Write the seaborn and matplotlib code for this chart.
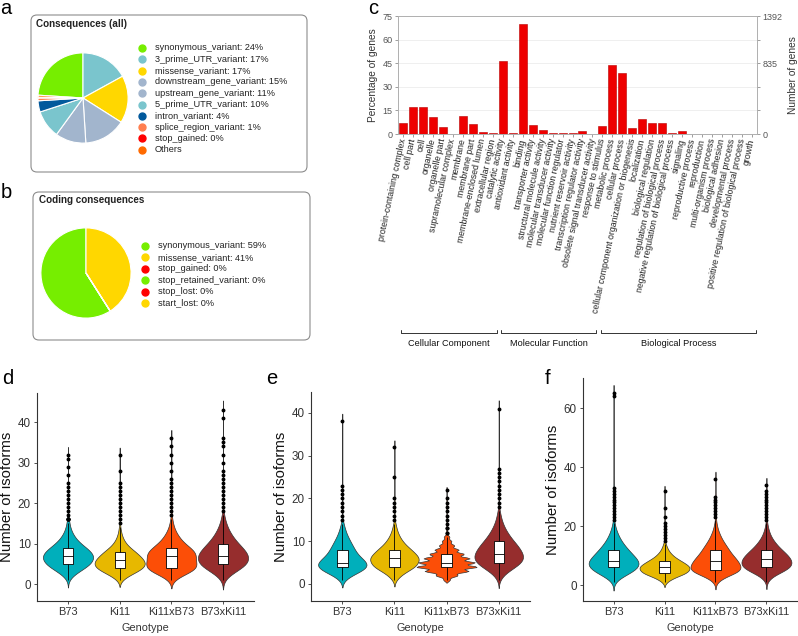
import numpy as np
import pandas as pd
import matplotlib
matplotlib.use('Agg')
import matplotlib.pyplot as plt
from matplotlib.patches import FancyBboxPatch
from matplotlib.lines import Line2D
import matplotlib.transforms as mtransforms
import seaborn as sns

W, H = 798, 636

# ---- panel a: consequences (all), listed in legend order
all_labels = ['synonymous_variant', '3_prime_UTR_variant', 'missense_variant',
              'downstream_gene_variant', 'upstream_gene_variant', '5_prime_UTR_variant',
              'intron_variant', 'splice_region_variant', 'stop_gained', 'Others']
all_pct_text = ['24%', '17%', '17%', '15%', '11%', '10%', '4%', '1%', '0%', None]
all_share = [24, 17, 17, 15, 11, 10, 4, 1, 0.3, 0.7]
all_colors = ['#76ee00', '#7ac5cd', '#ffd700', '#a2b5cd', '#a2b5cd', '#7ac5cd',
              '#02599c', '#ff7f50', '#ff0000', '#ff6a00']

# ---- panel b: coding consequences
coding_labels = ['synonymous_variant', 'missense_variant', 'stop_gained',
                 'stop_retained_variant', 'stop_lost', 'start_lost']
coding_share = [59, 41, 0, 0, 0, 0]
coding_colors = ['#76ee00', '#ffd700', '#ff0000', '#76ee00', '#ff0000', '#ffd700']

# ---- panel c: GO categories
go_terms = ['protein-containing complex', 'cell part', 'cell', 'organelle', 'organelle part',
            'supramolecular complex', 'membrane', 'membrane part', 'membrane-enclosed lumen',
            'extracellular region',
            'catalytic activity', 'antioxidant activity', 'binding', 'transporter activity',
            'structural molecule activity', 'molecular transducer activity',
            'molecular function regulator', 'nutrient reservoir activity',
            'transcription regulator activity', 'obsolete signal transducer activity',
            'response to stimulus', 'metabolic process', 'cellular process',
            'cellular component organization or biogenesis', 'localization',
            'biological regulation', 'regulation of biological process',
            'negative regulation of biological process', 'signaling', 'reproductive process',
            'reproduction', 'multi-organism process', 'biological adhesion',
            'developmental process', 'positive regulation of biological process', 'growth']
go_pct = [7.0, 16.9, 16.9, 10.8, 4.4, 0.3, 11.3, 6.1, 1.0, 0.7,
          46.5, 0.8, 70.0, 5.8, 2.8, 0.5, 0.8, 0.4, 1.7, 0.1,
          5.3, 44.0, 39.0, 3.7, 9.7, 7.2, 6.7, 0.6, 1.8, 0.1,
          0.1, 0.1, 0.1, 0.1, 0.1, 0.1]
go_groups = ['Cellular Component', 'Molecular Function', 'Biological Process']
go_group_sizes = [10, 10, 16]
genes_total = 1392

# ---- panels d-f: number of genes per isoform count (1, 2, 3, ...) plus outlying values
genotypes = ['B73', 'Ki11', 'Ki11xB73', 'B73xKi11']
geno_colors = {'B73': '#00afbb', 'Ki11': '#e7b800', 'Ki11xB73': '#fc4e07', 'B73xKi11': '#962d2d'}

d_counts = {
    'B73': [5, 20, 45, 75, 100, 110, 115, 100, 80, 55, 38, 25, 16, 10, 6, 4],
    'Ki11': [12, 40, 80, 115, 125, 115, 95, 75, 48, 30, 18, 11, 6, 4],
    'Ki11xB73': [10, 35, 75, 100, 95, 85, 95, 90, 70, 50, 35, 25, 16, 10, 6, 4],
    'B73xKi11': [6, 20, 45, 75, 95, 100, 100, 90, 75, 60, 45, 35, 25, 18, 12, 8, 5],
}
d_high = {
    'B73': [16, 17, 18, 19, 20, 21, 22, 23, 24, 25, 27, 29, 31, 32],
    'Ki11': [15, 16, 17, 18, 19, 20, 21, 22, 23, 24, 25, 28, 32],
    'Ki11xB73': [17, 18, 19, 20, 21, 22, 23, 24, 25, 26, 28, 30, 32, 34, 36],
    'B73xKi11': [18, 19, 20, 21, 22, 23, 24, 25, 26, 27, 28, 30, 32, 34, 35, 36, 41, 43],
}
e_counts = {
    'B73': [12, 40, 85, 115, 110, 85, 65, 55, 45, 35, 25, 17, 11, 7],
    'Ki11': [10, 30, 60, 100, 110, 120, 100, 80, 55, 38, 25, 16, 10, 6],
    'Ki11xB73': [15, 50, 100, 140, 130, 105, 80, 55, 35, 22, 13],
    'B73xKi11': [6, 18, 40, 70, 95, 105, 100, 90, 78, 62, 48, 36, 26, 18, 12, 8, 5],
}
e_high = {
    'B73': [15, 16, 17, 18, 19, 20, 21, 22, 23, 38],
    'Ki11': [15, 16, 17, 18, 19, 20, 25, 32],
    'Ki11xB73': [12, 12, 13, 13, 14, 15, 16, 17, 18, 19, 20, 22],
    'B73xKi11': [18, 19, 20, 21, 22, 23, 24, 25, 26, 27, 41],
}
f_counts = {
    'B73': [4, 12, 28, 48, 65, 75, 78, 80, 68, 60, 52, 44, 36, 29, 23, 18, 14, 10, 7, 5, 3],
    'Ki11': [10, 30, 60, 100, 110, 120, 100, 80, 55, 38, 25, 16, 10, 6],
    'Ki11xB73': [5, 15, 35, 60, 85, 78, 75, 70, 62, 55, 45, 42, 35, 29, 23, 18, 14, 10, 7, 5, 3, 2],
    'B73xKi11': [3, 8, 20, 38, 60, 75, 80, 80, 75, 68, 58, 48, 38, 30, 23, 17, 12, 9, 6, 4, 3],
}
f_high = {
    'B73': [22, 23, 24, 25, 26, 27, 28, 29, 30, 31, 32, 33, 64, 65],
    'Ki11': [15, 16, 17, 18, 19, 20, 21, 23, 26, 32],
    'Ki11xB73': [23, 24, 25, 26, 27, 28, 29, 30, 36],
    'B73xKi11': [22, 23, 24, 25, 26, 27, 28, 29, 30, 31, 32, 34],
}

sns.set_theme(style='ticks')
plt.rcParams['font.family'] = ['Liberation Sans', 'DejaVu Sans']

fig = plt.figure(figsize=(W / 100, H / 100), dpi=100)


def px_axes(left, top, width, height):
    return fig.add_axes([left / W, 1 - (top + height) / H, width / W, height / H])


def fig_text(x, y, s, **kw):
    fig.text(x / W, 1 - y / H, s, **kw)


def rounded_box(x0, y0, x1, y1):
    box = FancyBboxPatch((x0 / 100, (H - y1) / 100), (x1 - x0) / 100, (y1 - y0) / 100,
                         boxstyle='round,pad=0,rounding_size=0.06',
                         transform=fig.dpi_scale_trans, facecolor='none',
                         edgecolor='#8c8c8c', linewidth=0.8)
    fig.add_artist(box)


def legend_rows(x_dot, x_txt, y0, step, labels, colors):
    for i, (lab, col) in enumerate(zip(labels, colors)):
        y = y0 + step * i
        fig.add_artist(Line2D([x_dot / W], [1 - y / H], marker='o', markersize=5,
                              color=col, transform=fig.transFigure))
        fig_text(x_txt, y, lab, fontsize=6.6, va='center', ha='left', color='#222')


# ---------- a
rounded_box(31, 15, 307, 172)
fig_text(36, 24, 'Consequences (all)', fontsize=7.1, fontweight='bold', va='center', color='#222')
ax_a = px_axes(37, 52, 92, 92)
ax_a.pie(all_share, colors=all_colors, startangle=90 + 3.6 * all_share[0], counterclock=False,
         wedgeprops=dict(edgecolor='white', linewidth=0.8))
ax_a.set_xlim(-1.02, 1.02)
ax_a.set_ylim(-1.02, 1.02)
a_text = [f'{l}: {p}' if p else l for l, p in zip(all_labels, all_pct_text)]
legend_rows(142, 155, 48, 11.3, a_text, all_colors)

# ---------- b
rounded_box(33, 192, 310, 340)
fig_text(39, 200, 'Coding consequences', fontsize=7.1, fontweight='bold', va='center', color='#222')
ax_b = px_axes(40, 227, 92, 92)
ax_b.pie(coding_share, colors=coding_colors, startangle=90 + 3.6 * coding_share[0],
         counterclock=False, wedgeprops=dict(edgecolor='white', linewidth=0.8))
ax_b.set_xlim(-1.02, 1.02)
ax_b.set_ylim(-1.02, 1.02)
b_text = [f'{l}: {p}%' for l, p in zip(coding_labels, coding_share)]
legend_rows(145, 158, 246, 11.4, b_text, coding_colors)

# ---------- c
ax_c = px_axes(398, 16, 359, 118)
go_df = pd.DataFrame({'term': go_terms, 'pct': go_pct})
sns.barplot(data=go_df, x='term', y='pct', color='#ee0000', saturation=1, width=0.8,
            edgecolor='#b80000', linewidth=0.4, ax=ax_c)
ax_c.set_xlim(-0.5, len(go_terms) - 0.5)
ax_c.set_ylim(0, 75)
ax_c.set_yticks([0, 15, 30, 45, 60, 75])
ax_c.yaxis.grid(True, color='#ececec', linewidth=0.6)
ax_c.set_axisbelow(True)
ax_c.set_xlabel('')
ax_c.set_ylabel('Percentage of genes', fontsize=7.3, color='#333', labelpad=3)
ax_c.tick_params(axis='y', labelsize=6.5, colors='#777', labelcolor='#555', length=2.5, width=0.5, pad=1.5)
ax_c.tick_params(axis='x', length=2, width=0.5, colors='#777', labelcolor='#222', pad=1.5)
ax_c.set_xticks(range(len(go_terms)))
ax_c.set_xticklabels(go_terms, rotation=78, ha='right', va='center', rotation_mode='anchor', fontsize=6.3)
for s in ax_c.spines.values():
    s.set_color('#b0b0b0')
    s.set_linewidth(0.6)
ax_r = ax_c.twinx()
ax_r.set_ylim(0, genes_total)
r_ticks = [genes_total * v / 75 for v in [0, 15, 30, 45, 60, 75]]
ax_r.set_yticks(r_ticks)
ax_r.set_yticklabels(['0', '', '', f'{round(r_ticks[3])}', '', f'{genes_total}'])
ax_r.tick_params(axis='y', labelsize=6.5, colors='#777', labelcolor='#555', length=2.5, width=0.5, pad=1.5)
ax_r.set_ylabel('Number of genes', fontsize=7.3, color='#333', labelpad=4)
for s in ax_r.spines.values():
    s.set_color('#b0b0b0')
    s.set_linewidth(0.6)

bt = mtransforms.blended_transform_factory(ax_c.transData, ax_c.transAxes)
start = 0
for name, n in zip(go_groups, go_group_sizes):
    x0, x1 = start - 0.5 + 0.35, start + n - 0.5 - 0.1
    yb, yt = (134 - 333) / 118, (134 - 330) / 118
    ax_c.plot([x0, x0, x1, x1], [yt, yb, yb, yt], color='#333', lw=0.7,
              transform=bt, clip_on=False)
    ax_c.text((x0 + x1) / 2, (134 - 344) / 118, name, transform=bt, ha='center', va='center',
              fontsize=6.6, color='#111')
    start += n


# ---------- d, e, f
def expand(counts, high):
    return np.concatenate([np.repeat(np.arange(1, len(counts) + 1), counts), high])


def violin_panel(ax, counts, high, ylim, yticks, width, spiky=None):
    frames = [pd.DataFrame({'Genotype': g, 'n': expand(counts[g], high[g])}) for g in genotypes]
    df = pd.concat(frames, ignore_index=True)
    smooth = df[df['Genotype'] != spiky]
    sns.violinplot(data=smooth, x='Genotype', y='n', hue='Genotype', order=genotypes,
                   palette=geno_colors, inner=None, density_norm='area', width=width,
                   linewidth=0.5, linecolor='#333333', saturation=1, legend=False, ax=ax)
    if spiky is not None:
        sns.violinplot(data=df[df['Genotype'] == spiky], x='Genotype', y='n', hue='Genotype',
                       order=genotypes, palette=geno_colors, inner=None, bw_adjust=0.5,
                       density_norm='width', width=1.15, linewidth=0.5, linecolor='#333333',
                       saturation=1, legend=False, ax=ax)
    sns.boxplot(data=df, x='Genotype', y='n', order=genotypes, width=0.2, color='white',
                saturation=1, linecolor='black', linewidth=0.6, showcaps=False,
                flierprops=dict(marker='o', markersize=1.8, markerfacecolor='black',
                                markeredgecolor='black'), ax=ax)
    ax.set_xlim(-0.6, 3.6)
    ax.set_ylim(*ylim)
    ax.set_yticks(yticks)
    ax.set_xlabel('Genotype', fontsize=7.8, color='#333', labelpad=4)
    ax.set_ylabel('Number of isoforms', fontsize=10.7, color='#111', labelpad=3)
    ax.tick_params(axis='y', labelsize=8.4, colors='#333', length=2.5, width=0.6, pad=2)
    ax.tick_params(axis='x', labelsize=7.9, colors='#333', length=2.5, width=0.6, pad=2)
    sns.despine(ax=ax)
    for s in ['left', 'bottom']:
        ax.spines[s].set_color('#333')
        ax.spines[s].set_linewidth(0.8)


ax_d = px_axes(37, 393, 217, 208)
violin_panel(ax_d, d_counts, d_high, (-4.2, 47.2), [0, 10, 20, 30, 40], 0.97)
ax_e = px_axes(311, 392, 219, 209)
violin_panel(ax_e, e_counts, e_high, (-4.0, 44.9), [0, 10, 20, 30, 40], 0.93, spiky='Ki11xB73')
ax_f = px_axes(583, 378, 214, 223)
violin_panel(ax_f, f_counts, f_high, (-5.4, 70.2), [0, 20, 40, 60], 0.98)

# panel letters
for letter, (x, y) in zip('abcdef', [(6, 8), (6, 193), (373, 9), (8, 378), (272, 378), (548, 378)]):
    fig_text(x, y, letter, fontsize=14.5, ha='center', va='center', color='black')

plt.savefig('out.png', dpi=100)
